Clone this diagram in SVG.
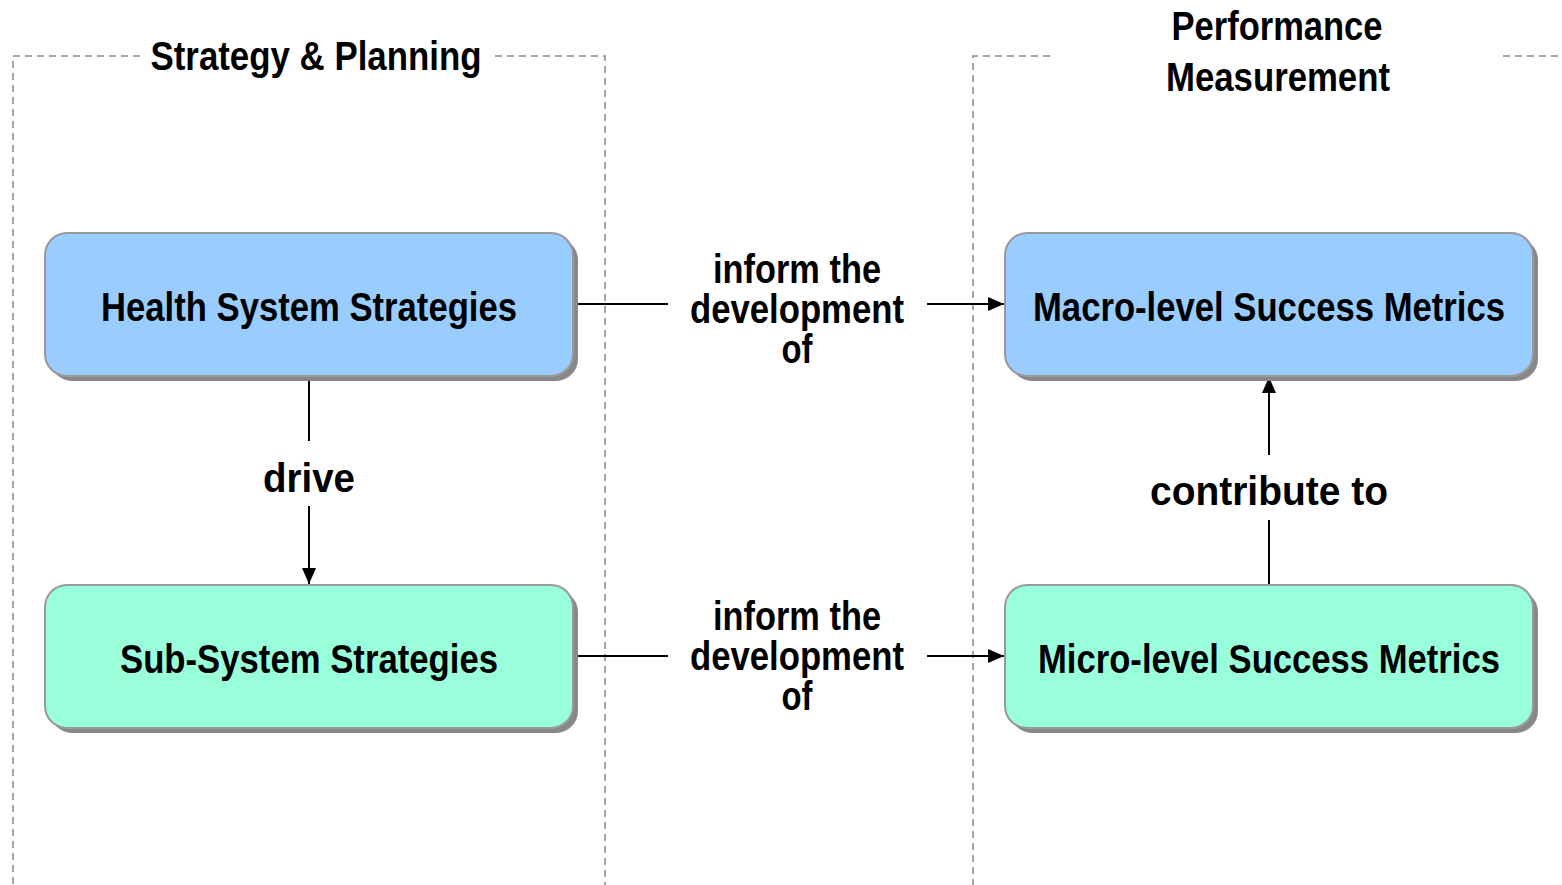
<svg xmlns="http://www.w3.org/2000/svg" width="1562" height="885" viewBox="0 0 1562 885">
<style>
.t{font-family:"Liberation Sans","Arial",sans-serif;font-weight:bold;fill:#000;text-anchor:middle;font-size:41px}
.box{stroke:#999;stroke-width:2}
.sh{fill:#888}
.cont{fill:none;stroke:#888;stroke-width:1.5;stroke-dasharray:7,5}
.ln{stroke:#000;stroke-width:2;fill:none}
</style>
<defs>
<marker id="ah" viewBox="0 0 16 14" refX="16" refY="7" markerWidth="16" markerHeight="14" markerUnits="userSpaceOnUse" orient="auto">
<path d="M0,0 L16,7 L0,14 Z" fill="#000"/>
</marker>
</defs>
<rect width="1562" height="885" fill="#fff"/>
<g id="container-strategy">
<path class="cont" d="M140,56 H13 V885 M495,56 H605 V885"/>
<text class="t" x="316" y="70" textLength="331" lengthAdjust="spacingAndGlyphs">Strategy &amp; Planning</text>
</g>
<g id="container-performance">
<path class="cont" d="M1050,56 H973 V885 M1503,56 H1562"/>
<text class="t" x="1277" y="40" textLength="211" lengthAdjust="spacingAndGlyphs">Performance</text>
<text class="t" x="1278" y="91" textLength="224" lengthAdjust="spacingAndGlyphs">Measurement</text>
</g>
<g id="connectors">
<line class="ln" x1="573" y1="304" x2="668" y2="304"/>
<line class="ln" x1="927" y1="304" x2="1004" y2="304" marker-end="url(#ah)"/>
<line class="ln" x1="573" y1="656" x2="668" y2="656"/>
<line class="ln" x1="927" y1="656" x2="1004" y2="656" marker-end="url(#ah)"/>
<line class="ln" x1="309" y1="377" x2="309" y2="441"/>
<line class="ln" x1="309" y1="506" x2="309" y2="584" marker-end="url(#ah)"/>
<line class="ln" x1="1269" y1="584" x2="1269" y2="520"/>
<line class="ln" x1="1269" y1="455" x2="1269" y2="377" marker-end="url(#ah)"/>
<text class="t" x="797" y="283" textLength="168" lengthAdjust="spacingAndGlyphs">inform the</text>
<text class="t" x="797" y="323" textLength="214" lengthAdjust="spacingAndGlyphs">development</text>
<text class="t" x="797" y="363" textLength="31" lengthAdjust="spacingAndGlyphs">of</text>
<text class="t" x="797" y="630" textLength="168" lengthAdjust="spacingAndGlyphs">inform the</text>
<text class="t" x="797" y="670" textLength="214" lengthAdjust="spacingAndGlyphs">development</text>
<text class="t" x="797" y="710" textLength="31" lengthAdjust="spacingAndGlyphs">of</text>
<text class="t" x="309" y="492" textLength="92" lengthAdjust="spacingAndGlyphs">drive</text>
<text class="t" x="1269" y="505" textLength="238" lengthAdjust="spacingAndGlyphs">contribute to</text>
</g>
<g id="node-health">
<rect class="sh" x="50" y="238" width="528" height="143" rx="22"/>
<rect class="box" x="45" y="233" width="528" height="143" rx="22" fill="#99ccff"/>
<text class="t" x="309" y="321" textLength="416" lengthAdjust="spacingAndGlyphs">Health System Strategies</text>
</g>
<g id="node-subsystem">
<rect class="sh" x="50" y="590" width="528" height="143" rx="22"/>
<rect class="box" x="45" y="585" width="528" height="143" rx="22" fill="#99ffdb"/>
<text class="t" x="309" y="673" textLength="378" lengthAdjust="spacingAndGlyphs">Sub-System Strategies</text>
</g>
<g id="node-macro">
<rect class="sh" x="1010" y="238" width="528" height="143" rx="22"/>
<rect class="box" x="1005" y="233" width="528" height="143" rx="22" fill="#99ccff"/>
<text class="t" x="1269" y="321" textLength="472" lengthAdjust="spacingAndGlyphs">Macro-level Success Metrics</text>
</g>
<g id="node-micro">
<rect class="sh" x="1010" y="590" width="528" height="143" rx="22"/>
<rect class="box" x="1005" y="585" width="528" height="143" rx="22" fill="#99ffdb"/>
<text class="t" x="1269" y="673" textLength="462" lengthAdjust="spacingAndGlyphs">Micro-level Success Metrics</text>
</g>
</svg>
